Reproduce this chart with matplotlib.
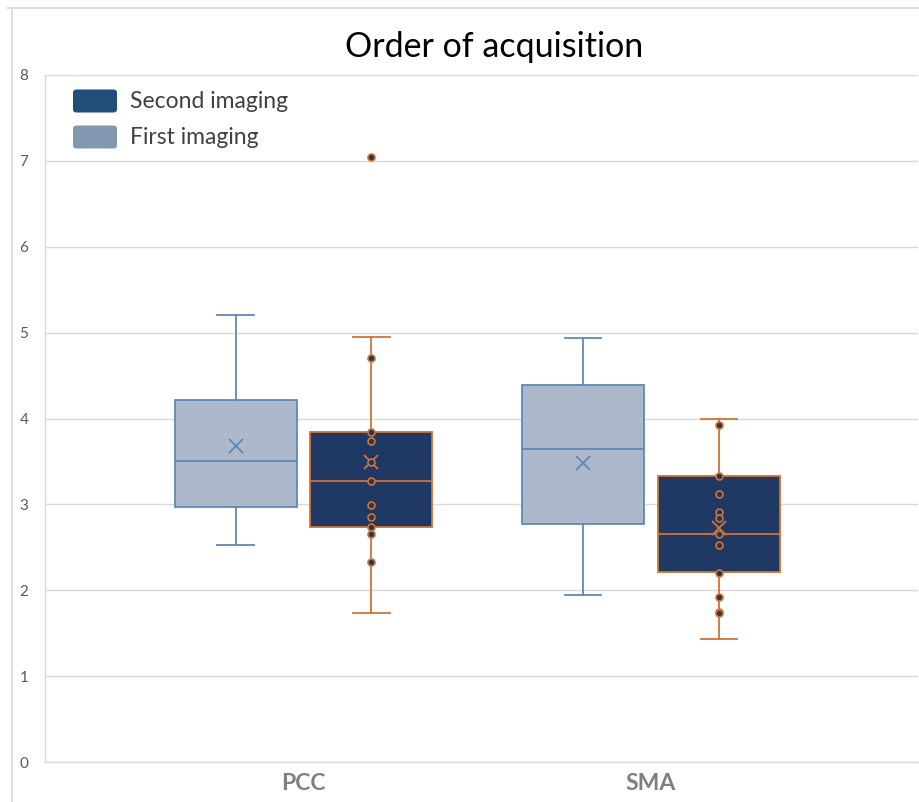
import matplotlib
matplotlib.use("Agg")
import matplotlib.pyplot as plt
from matplotlib.patches import FancyBboxPatch
from matplotlib.lines import Line2D

plt.rcParams['font.family'] = ['Lato', 'DejaVu Sans']

# Categories and series
categories = ["PCC", "SMA"]
series_names = ["First imaging", "Second imaging"]

# Box statistics per series, one value per category
first_q1 = [2.97, 2.77]
first_median = [3.50, 3.64]
first_q3 = [4.21, 4.39]
first_whislo = [2.53, 1.94]
first_whishi = [5.21, 4.94]
first_mean = [3.68, 3.48]

second_q1 = [2.74, 2.21]
second_median = [3.27, 2.65]
second_q3 = [3.84, 3.33]
second_whislo = [1.73, 1.43]
second_whishi = [4.95, 4.00]
second_mean = [3.49, 2.73]

# Individual observations shown for the second imaging
second_points_pcc = [7.05, 4.70, 3.84, 3.74, 3.49, 3.27, 2.99, 2.85, 2.74, 2.655, 2.33]
second_points_sma = [3.92, 3.33, 3.125, 2.91, 2.84, 2.65, 2.53, 2.205, 1.925, 1.75, 1.73]

yticks = [0, 1, 2, 3, 4, 5, 6, 7, 8]

W, H = 919, 802
fig = plt.figure(figsize=(W / 100, H / 100), dpi=100)
fig.patch.set_facecolor("white")


def fx(px):
    return px / W


def fy(py):
    return 1 - py / H


ax = fig.add_axes([fx(45), fy(762), fx(918) - fx(45), fy(75) - fy(762)])

first_fill, first_edge = "#ADB9CA", "#5F88B8"
second_fill, second_edge = "#203864", "#CF7434"
grid_col = "#D9D9D9"

offset = 0.195
box_w = 0.351
cap_w = 0.105


def make_stats(q1, med, q3, lo, hi, mean):
    return [dict(q1=a, med=b, q3=c, whislo=d, whishi=e, mean=f, fliers=[])
            for a, b, c, d, e, f in zip(q1, med, q3, lo, hi, mean)]


pos = [i + 1 for i in range(len(categories))]

for stats, shift, fill, edge in [
    (make_stats(first_q1, first_median, first_q3, first_whislo, first_whishi, first_mean),
     -offset, first_fill, first_edge),
    (make_stats(second_q1, second_median, second_q3, second_whislo, second_whishi, second_mean),
     offset, second_fill, second_edge),
]:
    ax.bxp(stats, positions=[p + shift for p in pos], widths=box_w,
           capwidths=cap_w, patch_artist=True, showmeans=True,
           boxprops=dict(facecolor=fill, edgecolor=edge, linewidth=1.3),
           medianprops=dict(color=edge, linewidth=1.3),
           whiskerprops=dict(color=edge, linewidth=1.3),
           capprops=dict(color=edge, linewidth=1.3),
           meanprops=dict(marker="x", markeredgecolor=edge, markersize=9.5,
                          markeredgewidth=1.3, linestyle="none"),
           zorder=3)

for p, pts in zip(pos, [second_points_pcc, second_points_sma]):
    ax.plot([p + offset] * len(pts), pts, linestyle="none", marker="o",
            markersize=5, markerfacecolor=second_fill,
            markeredgecolor=second_edge, markeredgewidth=1.2, zorder=4)

ax.set_ylim(0, 8)
ax.set_xlim(1 - 258.5 / 347.5, 2 + 267 / 347.5)
ax.set_yticks(yticks)
ax.set_yticklabels([str(t) for t in yticks], fontsize=11, color="#595959")
ax.set_xticks(pos)
ax.set_xticklabels(categories, fontsize=16.5, fontweight="bold", color="#7F7F7F")
ax.tick_params(axis="both", length=0)
ax.tick_params(axis="y", pad=12)
ax.tick_params(axis="x", pad=8)
ax.yaxis.grid(True, color=grid_col, linewidth=1.0, zorder=0)
ax.set_axisbelow(True)
for side in ["right", "top"]:
    ax.spines[side].set_visible(False)
ax.spines["left"].set_color(grid_col)
ax.spines["bottom"].set_color(grid_col)
ax.spines["left"].set_linewidth(1.0)
ax.spines["bottom"].set_linewidth(1.0)

# Title
fig.text(fx(494), fy(47), "Order of acquisition", fontsize=24.5, color="black",
         ha="center", va="center")

# Legend swatches and labels
legend_rows = [("Second imaging", "#1F4E79", 101), ("First imaging", "#8497B0", 137)]
for label, col, yc in legend_rows:
    sw = FancyBboxPatch((fx(73), fy(yc + 11.5)), fx(44), fy(yc - 11.5) - fy(yc + 11.5),
                        boxstyle="round,pad=0,rounding_size=0.004",
                        transform=fig.transFigure, facecolor=col,
                        edgecolor="none", zorder=5)
    fig.patches.append(sw)
    fig.text(fx(130), fy(yc), label, fontsize=16.5, color="#404040",
             ha="left", va="center")

# Chart frame
fig.add_artist(Line2D([fx(7), 1], [fy(8), fy(8)], color=grid_col, linewidth=1.2,
                      transform=fig.transFigure))
fig.add_artist(Line2D([fx(12), fx(12)], [fy(8), 0], color=grid_col, linewidth=1.2,
                      transform=fig.transFigure))

fig.savefig("out.png", dpi=100, facecolor="white")
